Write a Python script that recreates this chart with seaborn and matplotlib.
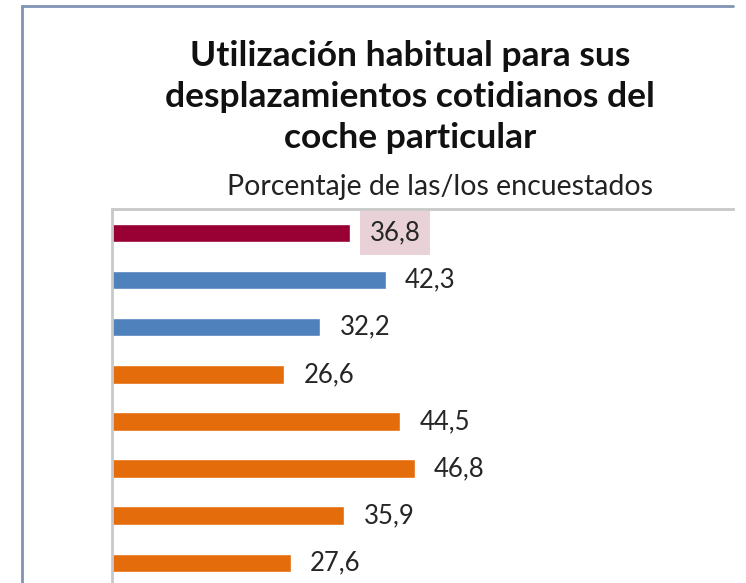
import numpy as np
import pandas as pd
import matplotlib
matplotlib.use("Agg")
import matplotlib.pyplot as plt
import seaborn as sns
from matplotlib.lines import Line2D

# DATA
# category names are not shown in the picture (axis labels hidden)
categories = ["Total", "Grupo 1", "Grupo 2", "Grupo 3",
              "Grupo 4", "Grupo 5", "Grupo 6", "Grupo 7"]
values = [36.8, 42.3, 32.2, 26.6, 44.5, 46.8, 35.9, 27.6]
bar_colors = ["#990033", "#4F81BD", "#4F81BD", "#E46C0A",
              "#E46C0A", "#E46C0A", "#E46C0A", "#E46C0A"]
labels = ["36,8", "42,3", "32,2", "26,6", "44,5", "46,8", "35,9", "27,6"]

TITLE = "Utilización habitual para sus\ndesplazamientos cotidianos del\ncoche particular"
SUBTITLE = "Porcentaje de las/los encuestados"

W, H = 746, 583

df = pd.DataFrame({"categoria": categories, "valor": values})

sns.set_theme(style="white")
plt.rcParams["font.family"] = ["Lato", "DejaVu Sans"]

fig = plt.figure(figsize=(W / 100, H / 100), dpi=100)

# outer frame of the screenshot (top and left only, rest cropped)
fig.add_artist(Line2D([22 / W, 733 / W], [1 - 6 / H, 1 - 6 / H],
                      transform=fig.transFigure, color="#7F93B3", lw=2))
fig.add_artist(Line2D([22 / W, 22 / W], [1 - 6 / H, 0],
                      transform=fig.transFigure, color="#7F93B3", lw=2))

# plot area
ax = fig.add_axes([112 / W, 0, (733 - 112) / W, (H - 209) / H])

sns.barplot(
    data=df,
    x="valor",
    y="categoria",
    hue="categoria",
    palette=bar_colors,
    saturation=1,
    orient="h",
    width=0.39,
    legend=False,
    ax=ax
)

ax.set_xlim(0, 96)
ax.set_ylim(7.43, -0.51)
ax.set_xlabel("")
ax.set_ylabel("")
ax.set_xticks([])
ax.set_yticks([])

for side in ["right", "bottom"]:
    ax.spines[side].set_visible(False)
for side in ["left", "top"]:
    ax.spines[side].set_color("#C8C8C8")
    ax.spines[side].set_linewidth(2)

# value labels
for i, (v, lab) in enumerate(zip(values, labels)):
    kw = {}
    if i == 0:
        kw["bbox"] = dict(boxstyle="square,pad=0.38", fc="#E8D2D8", ec="none")
    ax.annotate(lab, xy=(v, i), xytext=(14, 0), textcoords="offset points",
                ha="left", va="center", fontsize=18.5, color="#262626", **kw)

fig.text(410 / W, 1 - 97 / H, TITLE, ha="center", va="center",
         fontsize=25.5, fontweight="bold", color="#111111", linespacing=1.33)
fig.text(440 / W, 1 - 187 / H, SUBTITLE, ha="center", va="center",
         fontsize=20.5, color="#222222")

plt.savefig("out.png", dpi=100)
